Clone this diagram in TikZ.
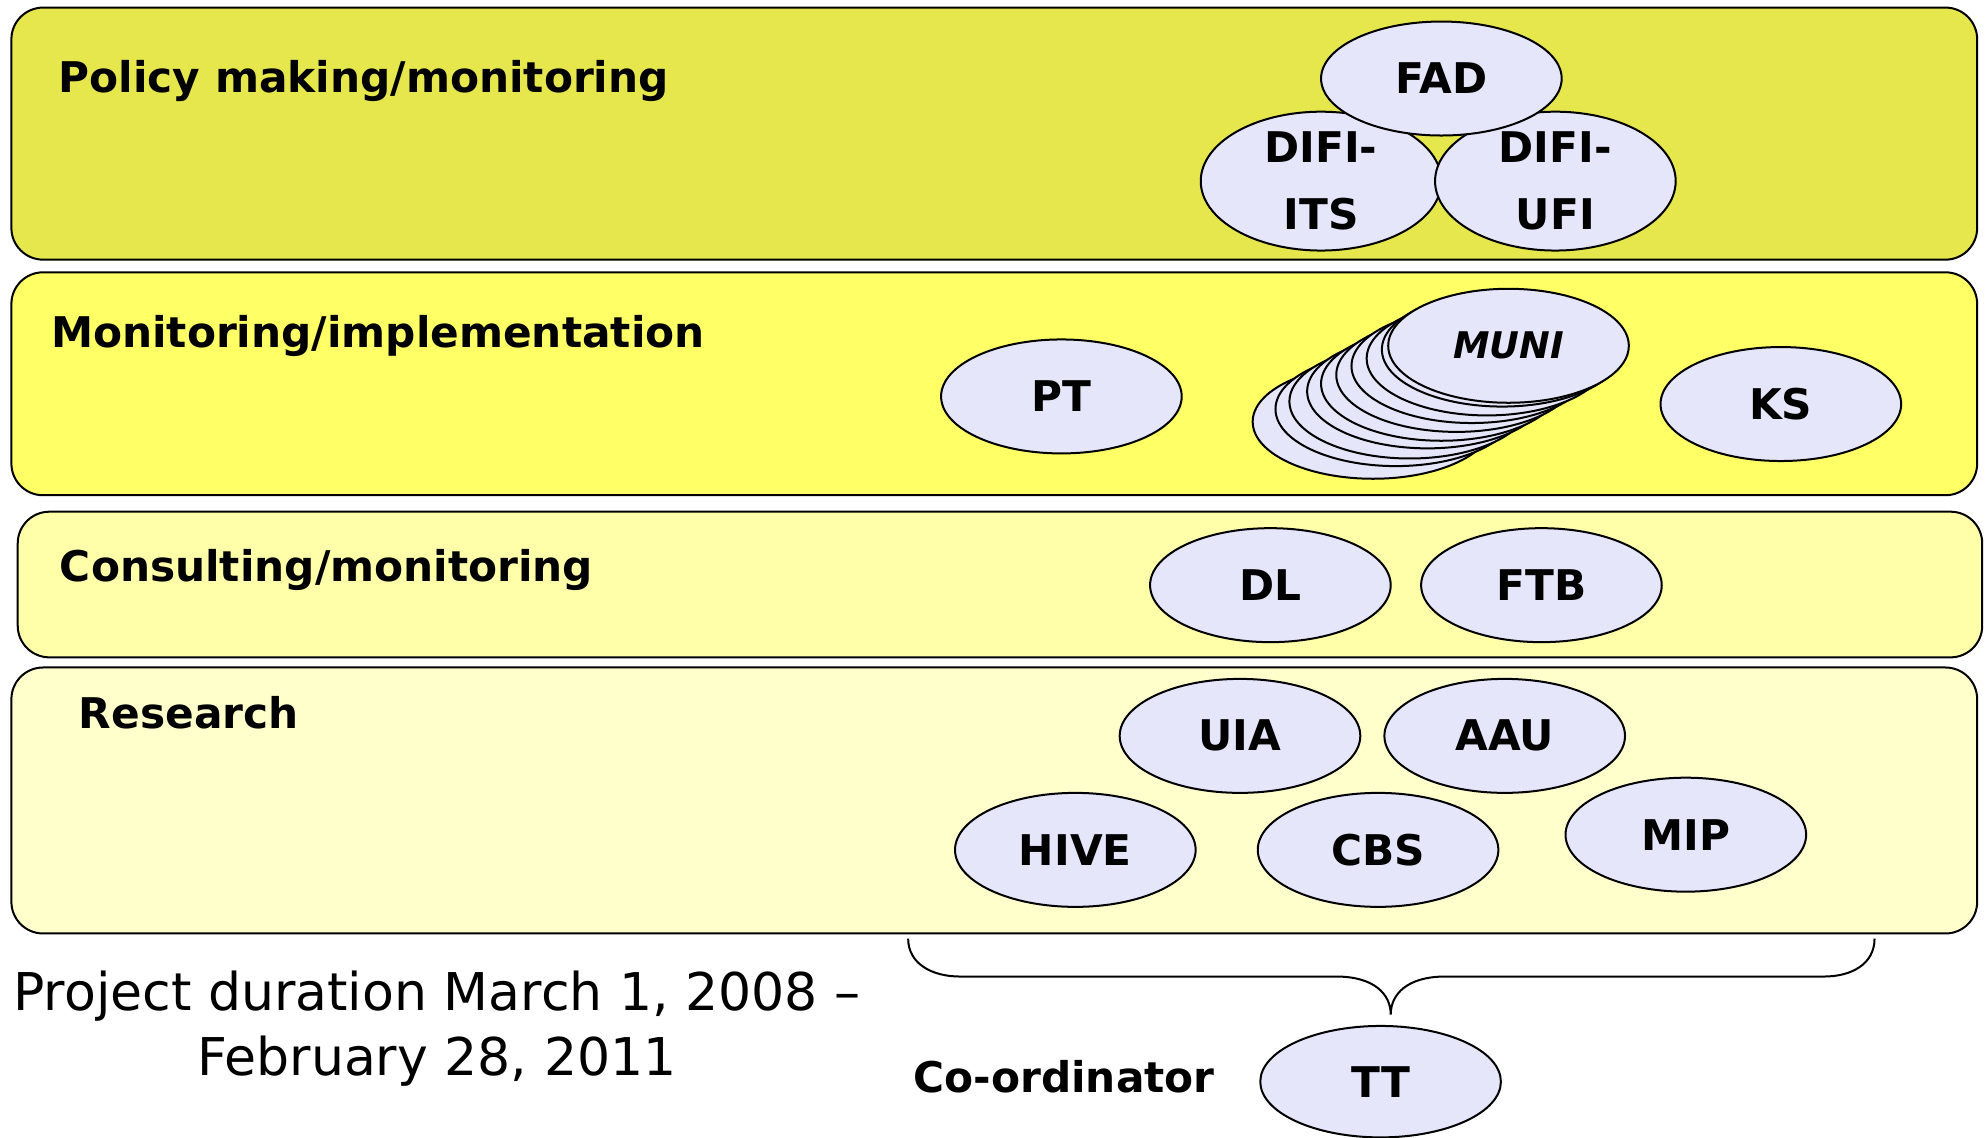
\documentclass[tikz,border=0pt]{standalone}
\usepackage{fontspec}
\setmainfont{DejaVu Sans}
\usetikzlibrary{shapes.geometric}
\definecolor{policyband}{RGB}{230,230,77}
\definecolor{implband}{RGB}{255,255,102}
\definecolor{consultband}{RGB}{255,255,170}
\definecolor{researchband}{RGB}{255,255,204}
\definecolor{partnerfill}{RGB}{230,230,250}
\begin{document}
\begin{tikzpicture}[x=0.02cm, y=-0.02cm,
    layer/.style={draw, line width=0.9pt, rounded corners=0.5cm},
    partner/.style={ellipse, draw, line width=0.9pt, fill=partnerfill,
      minimum width=3.8cm, minimum height=1.8cm, inner sep=0pt, align=center,
      font=\fontsize{19}{30}\selectfont\bfseries},
    layertitle/.style={anchor=west, inner sep=0pt,
      font=\fontsize{19}{23}\selectfont\bfseries}]
  \useasboundingbox (0,0) rectangle (1568,898);

  % the four layers
  \draw[layer, fill=policyband] (9,6) rectangle (1561,205);
  \draw[layer, fill=implband] (9,215) rectangle (1561,391);
  \draw[layer, fill=consultband] (14,404) rectangle (1565,519);
  \draw[layer, fill=researchband] (9,527) rectangle (1561,737);

  \node[layertitle] (policy) at (46,64) {Policy making/monitoring};
  \node[layertitle] (impl) at (40,265) {Monitoring/implementation};
  \node[layertitle] (consult) at (47,450) {Consulting/monitoring};
  \node[layertitle] (research) at (62,563) {Research};

  % policy making
  \node[partner, minimum height=2.12cm] (difiits) at (1043,143) {DIFI-\\ITS};
  \node[partner, minimum height=2.12cm] (difiufi) at (1228,143) {DIFI-\\UFI};
  \node[partner] (fad) at (1138,62) {FAD};

  % monitoring/implementation
  \node[partner] (pt) at (838,313) {PT};
  \foreach \cx/\cy [count=\k] in {1084/333, 1102/323, 1113/317, 1127/309,
      1138/303, 1150/296, 1162/289, 1174/283, 1186/276}
    \node[partner] (muni\k) at (\cx,\cy) {};
  \node[partner, font=\fontsize{16.5}{20}\selectfont\bfseries\itshape]
    (muni) at (1191,273) {MUNI};
  \node[partner] (ks) at (1406,319) {KS};

  % consulting
  \node[partner] (dl) at (1003,462) {DL};
  \node[partner] (ftb) at (1217,462) {FTB};

  % research
  \node[partner] (uia) at (979,581) {UIA};
  \node[partner] (aau) at (1188,581) {AAU};
  \node[partner] (hive) at (849,671) {HIVE};
  \node[partner] (cbs) at (1088,671) {CBS};
  \node[partner] (mip) at (1331,659) {MIP};

  % co-ordinator
  \coordinate (braceL) at (717,741);
  \coordinate (braceR) at (1480,741);
  \coordinate (braceTip) at (1098,801);
  \draw[line width=0.9pt] (braceL) .. controls (717,761) and (736,771) .. (758,771)
    -- (1055,771) .. controls (1085,771) and (1098,785) .. (braceTip)
    .. controls (1098,785) and (1111,771) .. (1141,771)
    -- (1440,771) .. controls (1462,771) and (1480,761) .. (braceR);
  \node[partner, minimum height=1.76cm] (tt) at (1090,854) {TT};
  \node[layertitle] (coord) at (721,850) {Co-ordinator};

  \node[align=center, inner sep=0pt, font=\fontsize{23.4}{29.5}\selectfont]
    (duration) at (345,812) {Project duration March 1, 2008 –\\February 28, 2011};
\end{tikzpicture}
\end{document}
